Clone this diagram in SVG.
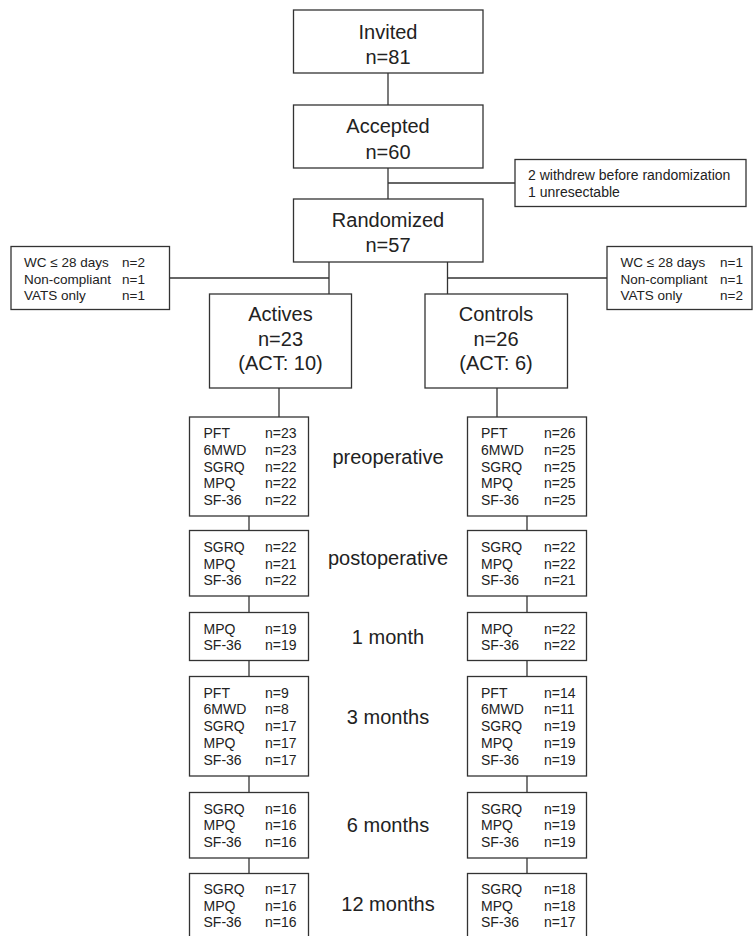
<svg xmlns="http://www.w3.org/2000/svg" width="755" height="936" viewBox="0 0 755 936">
<style>
rect{fill:#fff;stroke:#333;stroke-width:1.3}
line{stroke:#333;stroke-width:1.3}
text{font-family:"Liberation Sans",Arial,sans-serif;fill:#222}
.mid{font-size:20px;text-anchor:middle}
.sm{font-size:14px}
.xs{font-size:13.5px}
</style>
<rect x="0" y="0" width="755" height="936" style="stroke:none"/>
<g id="connectors">
<line x1="388" y1="73" x2="388" y2="105"/>
<line x1="388" y1="168" x2="388" y2="199"/>
<line x1="388" y1="183" x2="515" y2="183"/>
<line x1="329" y1="262" x2="329" y2="294"/>
<line x1="169" y1="278" x2="329" y2="278"/>
<line x1="447.5" y1="262" x2="447.5" y2="294"/>
<line x1="447.5" y1="278" x2="607" y2="278"/>
<line x1="279" y1="388" x2="279" y2="417"/>
<line x1="497" y1="388" x2="497" y2="417"/>
<line x1="249" y1="516" x2="249" y2="530.5"/>
<line x1="249" y1="595.5" x2="249" y2="612.5"/>
<line x1="249" y1="660.5" x2="249" y2="676.5"/>
<line x1="249" y1="776" x2="249" y2="792.5"/>
<line x1="249" y1="858" x2="249" y2="873.5"/>
<line x1="527" y1="516" x2="527" y2="530.5"/>
<line x1="527" y1="595.5" x2="527" y2="612.5"/>
<line x1="527" y1="660.5" x2="527" y2="676.5"/>
<line x1="527" y1="776" x2="527" y2="792.5"/>
<line x1="527" y1="858" x2="527" y2="873.5"/>
</g>
<g id="invited">
<rect x="293.5" y="10" width="189.5" height="63"/>
<text class="mid" x="388" y="38.5">Invited</text>
<text class="mid" x="388" y="63.5">n=81</text>
</g>
<g id="accepted">
<rect x="293.5" y="105" width="189.5" height="63"/>
<text class="mid" x="388" y="133">Accepted</text>
<text class="mid" x="388" y="158.5">n=60</text>
</g>
<g id="withdrew">
<rect x="515" y="159.5" width="231" height="47"/>
<text class="sm" x="528" y="180">2 withdrew before randomization</text>
<text class="sm" x="528" y="196.5">1 unresectable</text>
</g>
<g id="randomized">
<rect x="293.5" y="199" width="189.5" height="63"/>
<text class="mid" x="388" y="227">Randomized</text>
<text class="mid" x="388" y="252">n=57</text>
</g>
<g id="excl-left">
<rect x="11" y="246.5" width="158.5" height="63"/>
<text class="xs" x="24" y="267.3">WC ≤ 28 days</text><text class="xs" x="122" y="267.3">n=2</text>
<text class="xs" x="24" y="283.6">Non-compliant</text><text class="xs" x="122" y="283.6">n=1</text>
<text class="xs" x="24" y="300">VATS only</text><text class="xs" x="122" y="300">n=1</text>
</g>
<g id="excl-right">
<rect x="607" y="246.5" width="145" height="63"/>
<text class="xs" x="620.5" y="267.3">WC ≤ 28 days</text><text class="xs" x="720" y="267.3">n=1</text>
<text class="xs" x="620.5" y="283.6">Non-compliant</text><text class="xs" x="720" y="283.6">n=1</text>
<text class="xs" x="620.5" y="300">VATS only</text><text class="xs" x="720" y="300">n=2</text>
</g>
<g id="actives">
<rect x="209.5" y="294" width="142" height="94"/>
<text class="mid" x="280.5" y="321">Actives</text>
<text class="mid" x="280.5" y="346">n=23</text>
<text class="mid" x="280.5" y="370">(ACT: 10)</text>
</g>
<g id="controls">
<rect x="425" y="294" width="142.5" height="94"/>
<text class="mid" x="496" y="321">Controls</text>
<text class="mid" x="496" y="346">n=26</text>
<text class="mid" x="496" y="370">(ACT: 6)</text>
</g>
<g id="a-pre">
<rect x="189.5" y="417" width="119" height="99"/>
<text class="sm" x="203.5" y="438">PFT</text><text class="sm" x="265" y="438">n=23</text>
<text class="sm" x="203.5" y="454.75">6MWD</text><text class="sm" x="265" y="454.75">n=23</text>
<text class="sm" x="203.5" y="471.5">SGRQ</text><text class="sm" x="265" y="471.5">n=22</text>
<text class="sm" x="203.5" y="488.25">MPQ</text><text class="sm" x="265" y="488.25">n=22</text>
<text class="sm" x="203.5" y="505">SF-36</text><text class="sm" x="265" y="505">n=22</text>
</g>
<g id="c-pre">
<rect x="467.5" y="417" width="119" height="99"/>
<text class="sm" x="481" y="438">PFT</text><text class="sm" x="544" y="438">n=26</text>
<text class="sm" x="481" y="454.75">6MWD</text><text class="sm" x="544" y="454.75">n=25</text>
<text class="sm" x="481" y="471.5">SGRQ</text><text class="sm" x="544" y="471.5">n=25</text>
<text class="sm" x="481" y="488.25">MPQ</text><text class="sm" x="544" y="488.25">n=25</text>
<text class="sm" x="481" y="505">SF-36</text><text class="sm" x="544" y="505">n=25</text>
</g>
<g id="lbl-pre"><text class="mid" x="388" y="464">preoperative</text></g>
<g id="a-post">
<rect x="189.5" y="530.5" width="119" height="65.5"/>
<text class="sm" x="203.5" y="552">SGRQ</text><text class="sm" x="265" y="552">n=22</text>
<text class="sm" x="203.5" y="568.5">MPQ</text><text class="sm" x="265" y="568.5">n=21</text>
<text class="sm" x="203.5" y="585">SF-36</text><text class="sm" x="265" y="585">n=22</text>
</g>
<g id="c-post">
<rect x="467.5" y="530.5" width="119" height="65.5"/>
<text class="sm" x="481" y="552">SGRQ</text><text class="sm" x="544" y="552">n=22</text>
<text class="sm" x="481" y="568.5">MPQ</text><text class="sm" x="544" y="568.5">n=22</text>
<text class="sm" x="481" y="585">SF-36</text><text class="sm" x="544" y="585">n=21</text>
</g>
<g id="lbl-post"><text class="mid" x="388" y="564.5">postoperative</text></g>
<g id="a-1m">
<rect x="189.5" y="612.5" width="119" height="48"/>
<text class="sm" x="203.5" y="633.5">MPQ</text><text class="sm" x="265" y="633.5">n=19</text>
<text class="sm" x="203.5" y="650.25">SF-36</text><text class="sm" x="265" y="650.25">n=19</text>
</g>
<g id="c-1m">
<rect x="467.5" y="612.5" width="119" height="48"/>
<text class="sm" x="481" y="633.5">MPQ</text><text class="sm" x="544" y="633.5">n=22</text>
<text class="sm" x="481" y="650.25">SF-36</text><text class="sm" x="544" y="650.25">n=22</text>
</g>
<g id="lbl-1m"><text class="mid" x="388" y="643.5">1 month</text></g>
<g id="a-3m">
<rect x="189.5" y="676.5" width="119" height="99.5"/>
<text class="sm" x="203.5" y="697.5">PFT</text><text class="sm" x="265" y="697.5">n=9</text>
<text class="sm" x="203.5" y="714.25">6MWD</text><text class="sm" x="265" y="714.25">n=8</text>
<text class="sm" x="203.5" y="731">SGRQ</text><text class="sm" x="265" y="731">n=17</text>
<text class="sm" x="203.5" y="747.75">MPQ</text><text class="sm" x="265" y="747.75">n=17</text>
<text class="sm" x="203.5" y="764.5">SF-36</text><text class="sm" x="265" y="764.5">n=17</text>
</g>
<g id="c-3m">
<rect x="467.5" y="676.5" width="119" height="99.5"/>
<text class="sm" x="481" y="697.5">PFT</text><text class="sm" x="544" y="697.5">n=14</text>
<text class="sm" x="481" y="714.25">6MWD</text><text class="sm" x="544" y="714.25">n=11</text>
<text class="sm" x="481" y="731">SGRQ</text><text class="sm" x="544" y="731">n=19</text>
<text class="sm" x="481" y="747.75">MPQ</text><text class="sm" x="544" y="747.75">n=19</text>
<text class="sm" x="481" y="764.5">SF-36</text><text class="sm" x="544" y="764.5">n=19</text>
</g>
<g id="lbl-3m"><text class="mid" x="388" y="724">3 months</text></g>
<g id="a-6m">
<rect x="189.5" y="792.5" width="119" height="65.5"/>
<text class="sm" x="203.5" y="813.5">SGRQ</text><text class="sm" x="265" y="813.5">n=16</text>
<text class="sm" x="203.5" y="830.25">MPQ</text><text class="sm" x="265" y="830.25">n=16</text>
<text class="sm" x="203.5" y="847">SF-36</text><text class="sm" x="265" y="847">n=16</text>
</g>
<g id="c-6m">
<rect x="467.5" y="792.5" width="119" height="65.5"/>
<text class="sm" x="481" y="813.5">SGRQ</text><text class="sm" x="544" y="813.5">n=19</text>
<text class="sm" x="481" y="830.25">MPQ</text><text class="sm" x="544" y="830.25">n=19</text>
<text class="sm" x="481" y="847">SF-36</text><text class="sm" x="544" y="847">n=19</text>
</g>
<g id="lbl-6m"><text class="mid" x="388" y="832">6 months</text></g>
<g id="a-12m">
<rect x="189.5" y="873.5" width="119" height="75"/>
<text class="sm" x="203.5" y="894">SGRQ</text><text class="sm" x="265" y="894">n=17</text>
<text class="sm" x="203.5" y="910.5">MPQ</text><text class="sm" x="265" y="910.5">n=16</text>
<text class="sm" x="203.5" y="927">SF-36</text><text class="sm" x="265" y="927">n=16</text>
</g>
<g id="c-12m">
<rect x="467.5" y="873.5" width="119" height="75"/>
<text class="sm" x="481" y="894">SGRQ</text><text class="sm" x="544" y="894">n=18</text>
<text class="sm" x="481" y="910.5">MPQ</text><text class="sm" x="544" y="910.5">n=18</text>
<text class="sm" x="481" y="927">SF-36</text><text class="sm" x="544" y="927">n=17</text>
</g>
<g id="lbl-12m"><text class="mid" x="388" y="911">12 months</text></g>
</svg>
